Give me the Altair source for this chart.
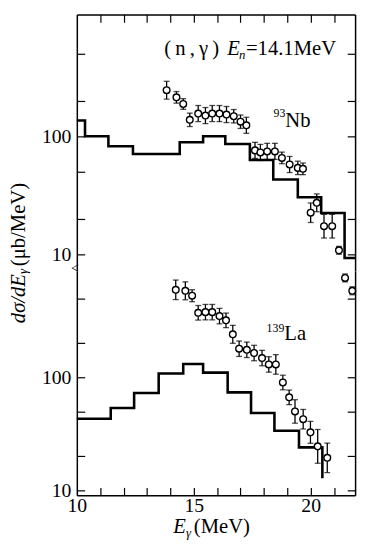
import altair as alt
import pandas as pd

# ---------------- values ----------------
X_DOM = [10.0, 21.9]
x_ticks = [11, 12, 13, 14, 15, 16, 17, 18, 19, 20, 21]
x_labels = [10, 15, 20]
y_ticks = [10, 20, 50, 100, 200, 500]
y_labels = [10, 100]
Y_DOM_NB = [7.2, 1080]
Y_DOM_LA = [9.05, 870]

# 93Nb calculated spectrum (histogram): bin edges (MeV) and heights (ub/MeV)
nb_edges = [10.0, 10.35, 11.35, 12.4, 14.4, 15.4, 16.35, 17.4, 18.4, 19.45, 20.45, 21.45, 21.9]
nb_hist = [136, 100, 82.5, 70.8, 89, 100, 86, 63, 43, 30.4, 22.4, 9.3]

# 93Nb measured points, error bars as multiplicative half-widths
nb_E = [13.84, 14.26, 14.55, 14.83, 15.19, 15.5, 15.79, 16.1, 16.4, 16.71, 17.0, 17.25,
        17.62, 17.85, 18.14, 18.47, 18.77, 19.1, 19.45, 19.67, 20.0, 20.26, 20.57, 20.92,
        21.21, 21.47, 21.78]
nb_val = [246, 214, 188, 138, 156, 150, 156, 156, 153, 148, 133, 124,
          76, 73, 74.5, 74.5, 65.6, 57.7, 54, 53, 22.5, 27.3, 17.3, 17.3,
          10.8, 6.3, 4.9]
nb_err = [1.19, 1.12, 1.11, 1.14, 1.17, 1.17, 1.17, 1.17, 1.17, 1.14, 1.14, 1.17,
          1.17, 1.17, 1.17, 1.17, 1.12, 1.17, 1.14, 1.12, 1.21, 1.19, 1.26, 1.26,
          1.08, 1.08, 1.08]

# 139La calculated spectrum (histogram)
la_edges = [10.0, 11.45, 12.45, 13.5, 14.55, 15.4, 16.45, 17.45, 18.45, 19.5, 20.5]
la_hist = [43, 53.5, 72.6, 108, 131, 110, 73.6, 48.3, 33.7, 24]
la_hist_end = [12.8]

# 139La measured points
la_E = [14.23, 14.64, 14.93, 15.19, 15.5, 15.79, 16.1, 16.38, 16.67, 16.94, 17.27, 17.58,
        17.92, 18.21, 18.51, 18.81, 19.08, 19.33, 19.68, 19.99, 20.3, 20.71]
la_val = [594, 582, 527, 372, 377, 377, 348, 319, 240, 179, 175, 164,
          148, 130, 130, 90, 66.5, 49.9, 42.6, 32.6, 24.5, 19.4]
la_err = [1.22, 1.2, 1.13, 1.16, 1.17, 1.17, 1.17, 1.16, 1.2, 1.17, 1.17, 1.17,
          1.17, 1.17, 1.22, 1.16, 1.16, 1.27, 1.22, 1.25, 1.41, 1.35]

# ---------------- tables & layout ----------------
W = 283
H_NB = 261
H_LA = 228
FONT = "Liberation Serif, Times New Roman, DejaVu Serif, serif"


def line_df(edges, heights, end):
    return pd.DataFrame({"E": edges, "v": list(heights) + list(end)})


def pts_df(E, val, err):
    return pd.DataFrame({
        "E": E, "v": val,
        "lo": [v / e for v, e in zip(val, err)],
        "hi": [v * e for v, e in zip(val, err)],
    })


def caps_df(p):
    return pd.concat([
        pd.DataFrame({"E": p["E"], "c": p["lo"]}),
        pd.DataFrame({"E": p["E"], "c": p["hi"]}),
    ], ignore_index=True)


def txt(s, x, y, size=21, style="normal", align="left", angle=0, baseline="alphabetic"):
    return alt.Chart(pd.DataFrame({"t": [s]})).mark_text(
        font=FONT, fontSize=size, fontStyle=style, align=align, baseline=baseline,
        angle=angle, color="black"
    ).encode(text="t:N", x=alt.value(x), y=alt.value(y))


def panel(line, pts, ydom, height, top, texts):
    xs = alt.Scale(domain=X_DOM, nice=False, zero=False)
    ys = alt.Scale(type="log", domain=ydom, nice=False)
    if top:
        x_main = alt.Axis(orient="top", domain=True, ticks=False, tickSize=0,
                          labels=False, title=None)
        x_in = alt.Axis(orient="top", offset=-8, tickSize=8, values=x_ticks,
                        domain=False, labels=False, title=None)
    else:
        x_main = alt.Axis(orient="bottom", domain=True, ticks=False, tickSize=0,
                          values=x_labels, format="d", labelPadding=1,
                          labelFlush=False, title=None)
        x_in = alt.Axis(orient="bottom", offset=-8, tickSize=8, values=x_ticks,
                        domain=False, labels=False, title=None)
    y_main = alt.Axis(orient="left", domain=True, ticks=False, tickSize=0,
                      values=y_labels, format="d", labelPadding=6,
                      labelFlush=False, title=None)
    y_in = alt.Axis(orient="left", offset=-8, tickSize=8, values=y_ticks,
                    domain=False, labels=False, title=None)
    y_r = alt.Axis(orient="right", domain=True, ticks=False, tickSize=0,
                   labels=False, title=None)
    y_rin = alt.Axis(orient="right", offset=-8, tickSize=8, values=y_ticks,
                     domain=False, labels=False, title=None)

    hist = alt.Chart(line).mark_line(
        interpolate="step-after", color="black", strokeWidth=2.6
    ).encode(
        x=alt.X("E:Q", scale=xs, axis=x_main),
        y=alt.Y("v:Q", scale=ys, axis=y_main),
    )
    bars = alt.Chart(pts).mark_rule(color="black", strokeWidth=1.3).encode(
        x=alt.X("E:Q", scale=xs, axis=x_in),
        y=alt.Y("lo:Q", scale=ys, axis=y_in),
        y2="hi:Q",
    )
    caps = alt.Chart(caps_df(pts)).mark_tick(
        orient="horizontal", size=6, thickness=1.3, color="black"
    ).encode(
        x=alt.X("E:Q", scale=xs, axis=None),
        y=alt.Y("c:Q", scale=ys, axis=y_r),
    )
    dots = alt.Chart(pts).mark_point(
        shape="circle", size=46, fill="white", stroke="black",
        strokeWidth=1.4, opacity=1, fillOpacity=1
    ).encode(
        x=alt.X("E:Q", scale=xs, axis=None),
        y=alt.Y("v:Q", scale=ys, axis=y_rin),
    )
    return alt.layer(hist, bars, caps, dots, *texts).properties(
        width=W, height=height
    ).resolve_axis(x="independent", y="independent")


nb_texts = [
    txt("(\u2009n\u2009,\u2009γ\u2009)", 89, 41),
    txt("E", 153, 41, style="italic"),
    txt("n", 165, 45, size=13, style="italic"),
    txt("=14.1MeV", 172, 41),
    txt("93", 200, 104, size=12),
    txt("Nb", 212, 114),
    # axis-break mark on the left frame
    txt("<", -2, 259, size=14, align="center", baseline="middle"),
    # y-axis title, rotated
    txt("dσ/dE", -58.5, 264, style="italic", align="right", angle=270, baseline="middle"),
    txt("γ", -54.5, 264, size=13, style="italic", align="left", angle=270, baseline="middle"),
    txt("(μb/MeV)", -58.5, 256, align="left", angle=270, baseline="middle"),
]
la_texts = [
    txt("139", 193, 62, size=12),
    txt("La", 211, 70),
    # x-axis title
    txt("E", 98, 266, style="italic"),
    txt("γ", 111, 270, size=13, style="italic"),
    txt("(MeV)", 119, 266),
]

upper = panel(line_df(nb_edges, nb_hist, nb_hist[-1:]), pts_df(nb_E, nb_val, nb_err),
              Y_DOM_NB, H_NB, True, nb_texts)
lower = panel(line_df(la_edges, la_hist, la_hist_end), pts_df(la_E, la_val, la_err),
              Y_DOM_LA, H_LA, False, la_texts)

chart = alt.vconcat(upper, lower, spacing=0, bounds="flush").properties(
    padding={"left": 0, "top": 1, "right": 0, "bottom": 0}
).configure_view(stroke=None).configure_axis(
    grid=False, domainColor="black", domainWidth=1.5, tickColor="black",
    tickWidth=1.2, labelColor="black", labelFont=FONT, labelFontSize=20,
)

chart.save("out.html", embed_options={"renderer": "svg", "actions": False})
